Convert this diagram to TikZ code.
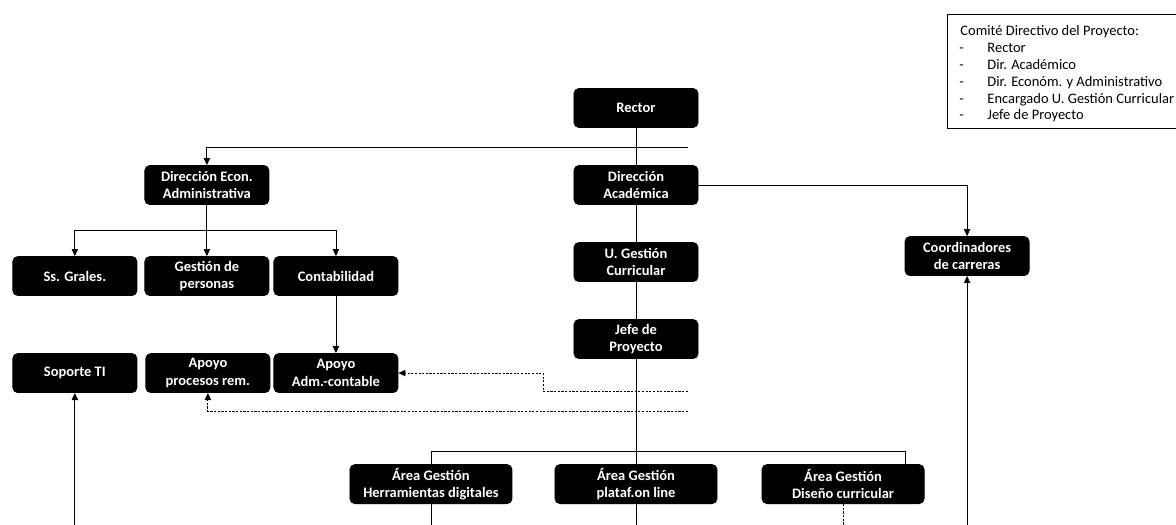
\documentclass[tikz,border=0pt]{standalone}
\usepackage{fontspec}
\setmainfont{Carlito}
\usetikzlibrary{arrows.meta, positioning}
\newcommand{\boxfont}{\fontsize{10.3}{12.6}\selectfont\bfseries}
\newcommand{\legendfont}{\fontsize{10.3}{12}\selectfont}
\tikzset{
>={Triangle[length=5pt,width=4.5pt]}, % small filled arrow heads
node distance=1.925cm, % centre to centre distance for "below of" etc.
unit/.style={draw=black, fill=black, text=white, rounded corners=3.5pt, minimum width=3.1cm, minimum height=0.975cm, inner sep=1pt, align=center, font=\boxfont}, % a black box of the chart
wideunit/.style={unit, minimum width=4.05cm},
legend/.style={inner sep=0pt, font=\legendfont},
dotline/.style={dash pattern=on 1.6pt off 1pt},
}

\begin{document}
\begin{tikzpicture}[x=0.025cm, y=-0.025cm, line width=0.6pt]
      \useasboundingbox (0,0) rectangle (1176,525);

      % central column
      \node[unit] (rector) at (636,108) {Rector};
      \node[unit, below of=rector] (dirac) {Dirección\\Académica};
      \node[unit, below of=dirac] (ugc) {U. Gestión\\Curricular};
      \node[unit, below of=ugc] (jefe) {Jefe de\\Proyecto};
      \node[unit, right of=ugc, xshift=6.35cm, yshift=0.15cm] (coord) {Coordinadores\\de carreras};

      % left branch
      \node[unit, left of=dirac, xshift=-8.8cm] (direcon) {Dirección Econ.\\Administrativa};
      \node[unit, below of=direcon, yshift=-0.35cm] (gestper) {Gestión de\\personas};
      \node[unit, left of=gestper, xshift=-1.375cm] (ssgrales) {Ss. Grales.};
      \node[unit, right of=gestper, xshift=1.3cm] (contab) {Contabilidad};
      \node[unit, below of=contab, yshift=-0.5cm] (apoyoadm) {Apoyo\\Adm.-contable};
      \node[unit, left of=apoyoadm, xshift=-1.275cm] (apoyorem) {Apoyo\\procesos rem.};
      \node[unit, left of=apoyorem, xshift=-1.4cm] (soporte) {Soporte TI};

      % project areas
      \node[wideunit, below of=jefe, yshift=-1.7cm] (plataf) {Área Gestión\\plataf.on line};
      \node[wideunit, left of=plataf, xshift=-3.2cm] (herram) {Área Gestión\\Herramientas digitales};
      \node[wideunit, right of=plataf, xshift=3.25cm] (diseno) {Área Gestión\\Diseño curricular};

      % committee
      \draw (1176,14) -- (947,14) -- (947,128) -- (1176,128);
      \node[legend, anchor=base west] (comite) at (960,36) {Comité Directivo del Proyecto:};
      \foreach \member [count=\i] in {Rector, Dir. Académico, Dir. Económ. y Administrativo, Encargado U. Gestión Curricular, Jefe de Proyecto} {
        \node[legend, anchor=base west] (dash\i) at (959,36+16.8*\i) {-};
        \node[legend, anchor=base west] (member\i) at (987,36+16.8*\i) {\member};
      }

      \coordinate (rjoin) at (688,147);
      \coordinate (ebar) at (direcon.south |- 0,230);
      \coordinate (dotA) at (688,391);
      \coordinate (dotB) at (543,391);
      \coordinate (dotC) at (688,411);
      \coordinate (barR) at (905,451);
      \coordinate (hEnd) at (herram.south |- 0,525);
      \coordinate (pEnd) at (plataf.south |- 0,525);
      \coordinate (dEnd) at (diseno.south |- 0,525);
      \coordinate (cEnd) at (coord.south |- 0,525);
      \coordinate (sEnd) at (soporte.south |- 0,525);

      \draw (rector) -- (dirac)
      (dirac) -- (ugc)
      (ugc) -- (jefe)
      (jefe) -- (plataf);
      \draw[->] (rjoin) -| (direcon.north);
      \draw[->] (dirac.east) -| (coord.north);
      \draw[->] (direcon) -- (gestper);
      \draw[->] (ebar) -| (ssgrales.north);
      \draw[->] (ebar) -| (contab.north);
      \draw[->] (contab) -- (apoyoadm);
      \draw[dotline, ->] (dotA) -- (dotB) |- (apoyoadm.east);
      \draw[dotline, ->] (dotC) -| (apoyorem.south);
      \draw (herram.north) |- (barR) -- (barR |- diseno.north);
      \draw (herram) -- (hEnd)
      (plataf) -- (pEnd);
      \draw[dotline] (diseno) -- (dEnd);
      \draw[->] (cEnd) -- (coord);
      \draw[->] (sEnd) -- (soporte);
    \end{tikzpicture}
\end{document}
